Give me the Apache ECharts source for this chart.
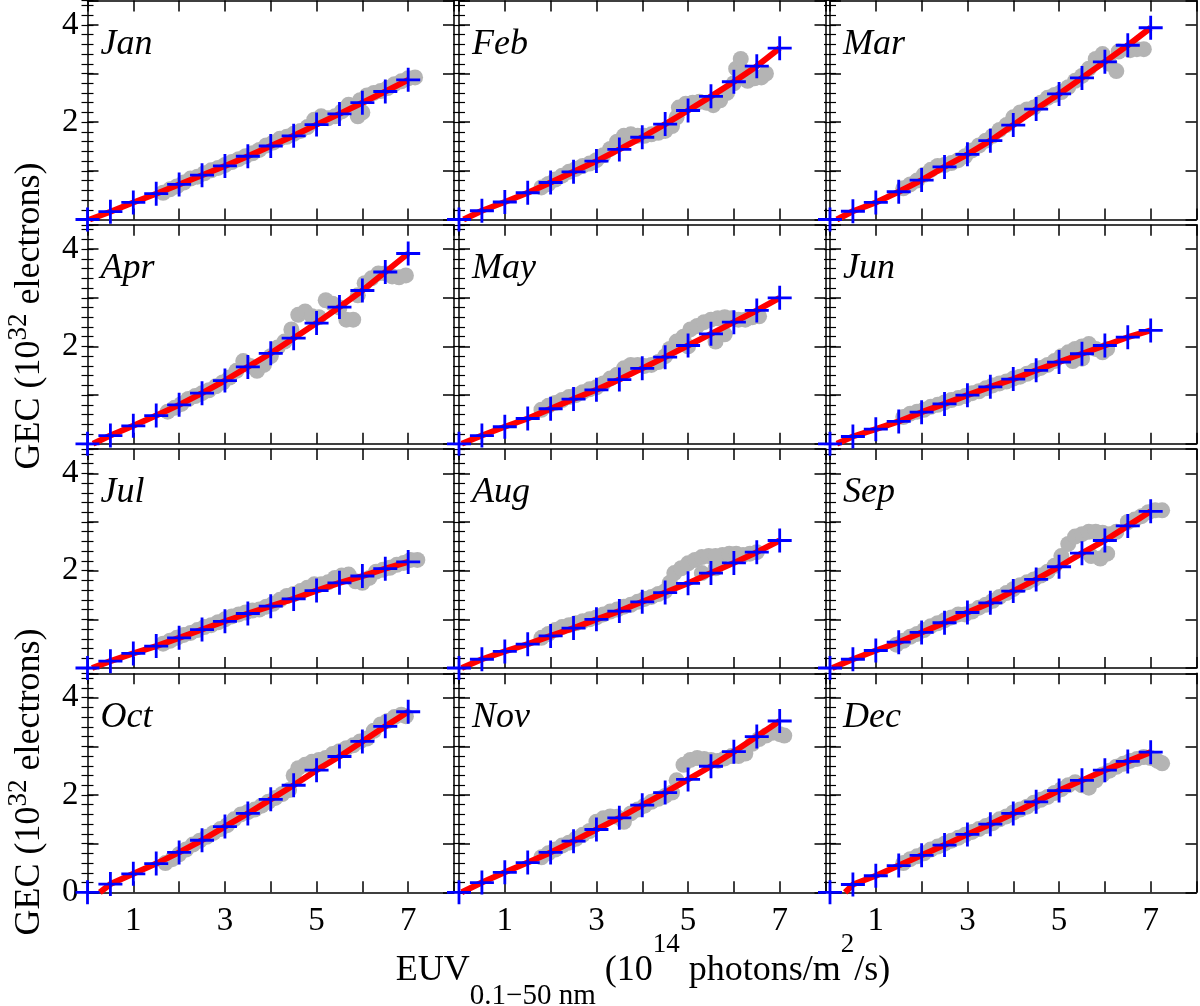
<!DOCTYPE html>
<html><head><meta charset="utf-8">
<script src="https://cdn.jsdelivr.net/npm/echarts@6/dist/echarts.min.js"></script>
<style>html,body{margin:0;padding:0;background:#fff}#c{width:1200px;height:1006px}</style>
</head><body><div id="c"></div>
<script>
const months = ['Jan','Feb','Mar','Apr','May','Jun','Jul','Aug','Sep','Oct','Nov','Dec'];
const xTickLabels = [1,3,5,7];
const yTickLabels = [2,4];
const plusX = [0,0.5,1,1.5,2,2.5,3,3.5,4,4.5,5,5.5,6,6.5,7];

const janPlus = [0,0.16,0.35,0.53,0.72,0.91,1.10,1.30,1.51,1.72,1.95,2.17,2.40,2.63,2.87];
const febPlus = [0,0.18,0.36,0.55,0.76,0.98,1.20,1.44,1.69,1.96,2.24,2.53,2.83,3.15,3.52];
const marPlus = [0,0.17,0.35,0.57,0.81,1.08,1.34,1.62,1.94,2.27,2.58,2.91,3.24,3.58,3.94];
const aprPlus = [0,0.17,0.37,0.58,0.80,1.04,1.30,1.58,1.86,2.17,2.48,2.81,3.15,3.53,3.91];
const mayPlus = [0,0.17,0.35,0.52,0.72,0.92,1.11,1.32,1.55,1.78,2.02,2.26,2.50,2.74,3.00];
const junPlus = [0,0.15,0.30,0.46,0.65,0.82,1.00,1.17,1.33,1.51,1.68,1.85,2.02,2.19,2.33];
const julPlus = [0,0.14,0.30,0.45,0.62,0.79,0.96,1.12,1.27,1.42,1.59,1.75,1.89,2.04,2.18];
const augPlus = [0,0.18,0.34,0.49,0.66,0.82,1.00,1.17,1.36,1.55,1.74,1.95,2.16,2.38,2.62];
const sepPlus = [0,0.18,0.36,0.53,0.73,0.93,1.14,1.34,1.58,1.82,2.08,2.36,2.62,2.92,3.22];
const octPlus = [0,0.17,0.38,0.59,0.82,1.07,1.35,1.62,1.91,2.20,2.51,2.79,3.10,3.41,3.71];
const novPlus = [0,0.20,0.41,0.61,0.82,1.05,1.29,1.53,1.79,2.05,2.32,2.59,2.89,3.20,3.52];
const decPlus = [0,0.16,0.34,0.55,0.76,0.97,1.19,1.40,1.62,1.86,2.09,2.30,2.51,2.69,2.88];

const redStartX = [0.05,0.1,0.15,0.12,0.06,0.15,0.1,0.06,0.05,0.27,0.06,0.33];

const janCloud = [[1.65,0.55],[1.8,0.62],[1.95,0.68],[2.1,0.76],[2.25,0.84],[2.4,0.88],[2.55,0.95],[2.7,1.01],[2.85,1.06],[3.0,1.12],[3.15,1.18],[3.3,1.24],[3.45,1.30],[3.6,1.36],[3.75,1.43],[3.9,1.52],[4.05,1.58],[4.2,1.66],[4.35,1.70],[4.5,1.76],[4.65,1.82],[4.8,1.90],[4.95,2.05],[5.1,2.12],[5.25,2.08],[5.4,2.12],[5.55,2.22],[5.7,2.36],[5.9,2.12],[6.0,2.20],[5.95,2.45],[6.1,2.55],[6.25,2.60],[6.4,2.64],[6.55,2.70],[6.7,2.78],[6.85,2.84],[7.0,2.90],[7.15,2.92]];
const febCloud = [[1.8,0.66],[1.95,0.73],[2.1,0.82],[2.25,0.90],[2.4,0.98],[2.55,1.04],[2.7,1.10],[2.85,1.15],[3.0,1.22],[3.15,1.32],[3.3,1.45],[3.45,1.60],[3.6,1.72],[3.75,1.75],[3.9,1.72],[4.05,1.72],[4.2,1.75],[4.35,1.78],[4.5,1.82],[4.65,1.92],[4.75,2.10],[4.8,2.30],[4.95,2.38],[5.1,2.40],[5.25,2.42],[5.4,2.40],[5.55,2.35],[5.7,2.45],[5.85,2.60],[6.0,2.80],[6.05,3.10],[6.15,3.30],[6.2,3.05],[6.3,2.85],[6.45,2.90],[6.6,2.92],[6.7,3.00]];
const marCloud = [[1.6,0.64],[1.75,0.72],[1.9,0.80],[2.05,0.92],[2.2,1.02],[2.35,1.10],[2.5,1.12],[2.65,1.16],[2.8,1.22],[2.95,1.30],[3.1,1.42],[3.25,1.52],[3.4,1.62],[3.55,1.72],[3.7,1.84],[3.85,1.94],[4.0,2.10],[4.15,2.20],[4.3,2.26],[4.45,2.30],[4.6,2.40],[4.75,2.50],[4.9,2.56],[5.05,2.62],[5.2,2.72],[5.35,2.85],[5.5,2.95],[5.65,3.10],[5.8,3.30],[5.95,3.40],[6.1,3.20],[6.25,3.05],[6.3,3.45],[6.55,3.48],[6.7,3.50],[6.85,3.50]];
const aprCloud = [[1.75,0.66],[1.9,0.74],[2.05,0.82],[2.2,0.92],[2.35,0.98],[2.5,1.04],[2.65,1.10],[2.8,1.18],[2.95,1.26],[3.1,1.36],[3.25,1.50],[3.4,1.70],[3.55,1.60],[3.7,1.50],[3.85,1.62],[4.0,1.80],[4.15,1.98],[4.3,2.10],[4.45,2.35],[4.6,2.65],[4.75,2.72],[4.9,2.62],[5.05,2.60],[5.2,2.95],[5.35,2.88],[5.5,2.80],[5.65,2.55],[5.8,2.55],[5.9,3.05],[6.05,3.30],[6.2,3.40],[6.35,3.50],[6.5,3.50],[6.65,3.44],[6.8,3.42],[6.95,3.46]];
const mayCloud = [[1.8,0.70],[1.95,0.78],[2.1,0.84],[2.25,0.90],[2.4,0.96],[2.55,1.00],[2.7,1.06],[2.85,1.12],[3.0,1.16],[3.15,1.24],[3.3,1.34],[3.45,1.42],[3.6,1.55],[3.75,1.62],[3.9,1.62],[4.05,1.60],[4.2,1.62],[4.35,1.68],[4.5,1.80],[4.6,1.95],[4.75,2.10],[4.9,2.20],[5.0,2.00],[5.05,2.35],[5.2,2.42],[5.35,2.50],[5.5,2.55],[5.65,2.58],[5.8,2.60],[5.95,2.58],[5.6,2.10],[5.8,2.25],[6.1,2.55],[6.25,2.55],[6.4,2.60],[6.55,2.62]];
const junCloud = [[1.6,0.55],[1.75,0.62],[1.9,0.66],[2.05,0.70],[2.2,0.76],[2.35,0.80],[2.5,0.85],[2.65,0.90],[2.8,0.94],[2.95,0.98],[3.1,1.04],[3.25,1.08],[3.4,1.14],[3.55,1.20],[3.7,1.24],[3.85,1.28],[4.0,1.34],[4.15,1.38],[4.3,1.44],[4.45,1.50],[4.6,1.56],[4.75,1.62],[4.9,1.70],[5.05,1.80],[5.2,1.88],[5.35,1.95],[5.5,2.00],[5.65,2.05],[5.8,1.95],[5.95,1.88],[6.05,1.95],[5.3,1.70],[5.5,1.75]];
const julCloud = [[1.65,0.50],[1.8,0.56],[1.95,0.62],[2.1,0.68],[2.25,0.72],[2.4,0.78],[2.55,0.84],[2.7,0.88],[2.85,0.94],[3.0,1.00],[3.15,1.06],[3.3,1.10],[3.45,1.14],[3.6,1.18],[3.75,1.20],[3.9,1.26],[4.05,1.32],[4.2,1.40],[4.35,1.48],[4.5,1.52],[4.65,1.58],[4.8,1.65],[4.95,1.72],[5.1,1.72],[5.25,1.76],[5.4,1.85],[5.55,1.90],[5.7,1.92],[5.85,1.78],[6.0,1.75],[6.15,1.85],[6.3,1.98],[6.45,2.02],[6.6,2.06],[6.75,2.12],[6.9,2.16],[7.05,2.22],[7.2,2.22]];
const augCloud = [[1.8,0.62],[1.95,0.70],[2.1,0.78],[2.25,0.84],[2.4,0.88],[2.55,0.92],[2.7,0.96],[2.85,1.00],[3.0,1.04],[3.15,1.10],[3.3,1.16],[3.45,1.20],[3.6,1.26],[3.75,1.30],[3.9,1.36],[4.05,1.42],[4.2,1.46],[4.35,1.52],[4.5,1.58],[4.6,1.75],[4.7,1.95],[4.85,2.05],[5.0,2.15],[5.15,2.22],[5.3,2.28],[5.45,2.30],[5.6,2.30],[5.75,2.32],[5.9,2.35],[6.05,2.35],[6.2,2.32],[6.35,2.35],[6.5,2.38],[5.3,1.95],[5.6,2.05]];
const sepCloud = [[1.45,0.48],[1.6,0.56],[1.75,0.64],[1.9,0.70],[2.05,0.78],[2.2,0.86],[2.35,0.92],[2.5,0.98],[2.65,1.04],[2.8,1.10],[2.95,1.10],[3.1,1.16],[3.25,1.24],[3.4,1.30],[3.55,1.38],[3.7,1.46],[3.85,1.54],[4.0,1.62],[4.15,1.70],[4.3,1.76],[4.45,1.82],[4.6,1.90],[4.75,1.98],[4.9,2.10],[5.05,2.30],[5.2,2.55],[5.35,2.70],[5.5,2.75],[5.65,2.80],[5.8,2.80],[5.95,2.78],[6.1,2.75],[5.7,2.30],[5.9,2.25],[6.05,2.35],[6.25,2.80],[6.5,3.00],[6.65,3.05],[6.8,3.12],[6.95,3.20],[7.1,3.24],[7.25,3.24]];
const octCloud = [[1.7,0.60],[1.85,0.68],[2.0,0.78],[2.15,0.88],[2.3,0.98],[2.45,1.06],[2.6,1.14],[2.75,1.22],[2.9,1.30],[3.05,1.38],[3.2,1.50],[3.35,1.60],[3.5,1.65],[3.65,1.70],[3.8,1.78],[3.95,1.86],[4.1,1.94],[4.25,2.02],[4.4,2.10],[4.5,2.40],[4.6,2.55],[4.75,2.62],[4.9,2.68],[5.05,2.72],[5.2,2.76],[5.35,2.84],[5.5,2.90],[5.65,2.96],[5.8,3.02],[5.95,3.10],[6.1,3.16],[6.25,3.32],[6.4,3.45],[6.55,3.52],[6.7,3.60],[6.85,3.65],[6.95,3.62]];
const novCloud = [[1.8,0.72],[1.95,0.80],[2.1,0.88],[2.25,0.96],[2.4,1.02],[2.55,1.10],[2.7,1.18],[2.85,1.26],[3.0,1.45],[3.15,1.52],[3.3,1.56],[3.45,1.55],[3.6,1.45],[3.75,1.62],[3.9,1.70],[4.05,1.78],[4.2,1.86],[4.35,1.92],[4.5,1.98],[4.65,2.05],[4.75,2.30],[4.9,2.62],[5.05,2.72],[5.2,2.76],[5.35,2.74],[5.5,2.72],[5.65,2.70],[5.8,2.75],[5.95,2.80],[6.1,2.80],[6.25,2.85],[6.4,3.05],[6.55,3.15],[6.7,3.22],[6.85,3.28],[7.0,3.25],[7.1,3.22]];
const decCloud = [[1.6,0.60],[1.75,0.68],[1.9,0.74],[2.05,0.80],[2.2,0.88],[2.35,0.94],[2.5,1.00],[2.65,1.06],[2.8,1.12],[2.95,1.18],[3.1,1.24],[3.25,1.30],[3.4,1.36],[3.55,1.42],[3.7,1.50],[3.85,1.56],[4.0,1.64],[4.15,1.70],[4.3,1.76],[4.45,1.84],[4.6,1.90],[4.75,1.96],[4.9,2.04],[5.05,2.12],[5.2,2.20],[5.35,2.26],[5.5,2.20],[5.65,2.15],[5.8,2.30],[5.95,2.42],[6.1,2.50],[6.25,2.58],[6.4,2.64],[6.55,2.70],[6.7,2.74],[6.85,2.78],[7.0,2.76],[7.15,2.70],[7.25,2.65]];

const plusSets = [janPlus,febPlus,marPlus,aprPlus,mayPlus,junPlus,julPlus,augPlus,sepPlus,octPlus,novPlus,decPlus];
const cloudSets = [janCloud,febCloud,marCloud,aprCloud,mayCloud,junCloud,julCloud,augCloud,sepCloud,octCloud,novCloud,decCloud];

const FONT = 'Liberation Serif';
const colLeft = [87.5, 459, 830];
const rowTop = [0.5, 224.8, 449, 673.3];
const W = 366.5, H = 219;
const LW = 1.5;

const grids = [], xAxes = [], yAxes = [], series = [], graphics = [];
months.forEach((m, i) => {
  const r = Math.floor(i / 3), c = i % 3;
  grids.push({left: colLeft[c], top: rowTop[r], width: W, height: H, containLabel: false, outerBoundsMode: 'none'});
  const axLine = {show: true, onZero: false, lineStyle: {color: '#000', width: LW}};
  const labelStyle = {fontSize: 33, fontFamily: FONT, color: '#000'};
  ['bottom','top'].forEach(pos => {
    xAxes.push({gridIndex: i, type: 'value', min: 0, max: 8, interval: 1, position: pos,
      axisLine: axLine, splitLine: {show: false},
      axisTick: {inside: true, length: 11, lineStyle: {color: '#000', width: LW}},
      axisLabel: Object.assign({show: pos === 'bottom' && r === 3, margin: 13,
        formatter: v => xTickLabels.indexOf(v) >= 0 ? String(v) : ''}, labelStyle)});
  });
  ['left','right'].forEach(pos => {
    yAxes.push({gridIndex: i, type: 'value', min: 0, max: 4.5, interval: 1, position: pos,
      axisLine: axLine, splitLine: {show: false},
      axisTick: {inside: true, length: 11, lineStyle: {color: '#000', width: LW}},
      axisLabel: Object.assign({show: pos === 'left' && c === 0, margin: 9,
        formatter: v => (yTickLabels.indexOf(v) >= 0 || (v === 0 && r === 3)) ? String(v) : ''}, labelStyle)});
    yAxes.push({gridIndex: i, type: 'value', min: 0, max: 4.5, interval: 0.2, position: pos,
      axisLine: {show: false}, splitLine: {show: false}, axisLabel: {show: false},
      axisTick: {inside: true, length: 6, lineStyle: {color: '#000', width: 1.2}}});
  });
  const plus = plusSets[i];
  series.push({type: 'scatter', xAxisIndex: 2*i, yAxisIndex: 4*i, data: cloudSets[i],
    symbol: 'circle', symbolSize: 16, itemStyle: {color: '#b4b4b4', opacity: 1}, z: 2, silent: true});
  const red = [[redStartX[i], 0]].concat(plusX.slice(1).map((x, k) => [x, plus[k+1]]));
  series.push({type: 'line', xAxisIndex: 2*i, yAxisIndex: 4*i, data: red, symbol: 'none', showSymbol: false,
    lineStyle: {color: '#ff0000', width: 6}, z: 3, silent: true});
  series.push({type: 'scatter', xAxisIndex: 2*i, yAxisIndex: 4*i, data: plusX.map((x, k) => [x, plus[k]]),
    symbol: 'path://M10,0L10,20M0,10L20,10', symbolSize: 24, clip: false,
    itemStyle: {color: '#0000ff', borderColor: '#0000ff', borderWidth: 2.8, opacity: 1}, z: 4, silent: true});
  graphics.push({type: 'text', x: colLeft[c] + 13, y: rowTop[r] + 44, z: 10,
    style: {text: m, font: 'italic 36px "Liberation Serif"', fill: '#000',
      align: 'left', verticalAlign: 'middle', textAlign: 'left', textVerticalAlign: 'middle'}});
});

const yTitle = (cy) => ({type: 'text', x: 30, y: cy, rotation: Math.PI / 2, z: 10,
  style: {text: '{a|GEC (10}{s|32}{a| electrons)}',
    rich: {a: {fontSize: 36, fontFamily: FONT, lineHeight: 50, fill: '#000', color: '#000'},
           s: {fontSize: 27, fontFamily: FONT, lineHeight: 18, verticalAlign: 'top', fill: '#000', color: '#000'}},
    align: 'center', verticalAlign: 'middle', textAlign: 'center', textVerticalAlign: 'middle'}});
graphics.push(yTitle(316));
graphics.push(yTitle(782));
graphics.push({type: 'text', x: 643, y: 971, z: 10,
  style: {text: '{a|EUV}{b|0.1\u221250 nm}{a| (10}{s|14}{a| photons/m}{s|2}{a|/s)}',
    rich: {a: {fontSize: 36, fontFamily: FONT, lineHeight: 80, fill: '#000', color: '#000'},
           s: {fontSize: 27, fontFamily: FONT, lineHeight: 48, verticalAlign: 'top', fill: '#000', color: '#000'},
           b: {fontSize: 29, fontFamily: FONT, lineHeight: 26, verticalAlign: 'bottom', fill: '#000', color: '#000'}},
    align: 'center', verticalAlign: 'middle', textAlign: 'center', textVerticalAlign: 'middle'}});

const chart = echarts.init(document.getElementById('c'), null, {renderer: 'canvas'});
chart.setOption({
  animation: false,
  backgroundColor: '#fff',
  grid: grids, xAxis: xAxes, yAxis: yAxes, series: series, graphic: graphics
});
</script></body></html>
